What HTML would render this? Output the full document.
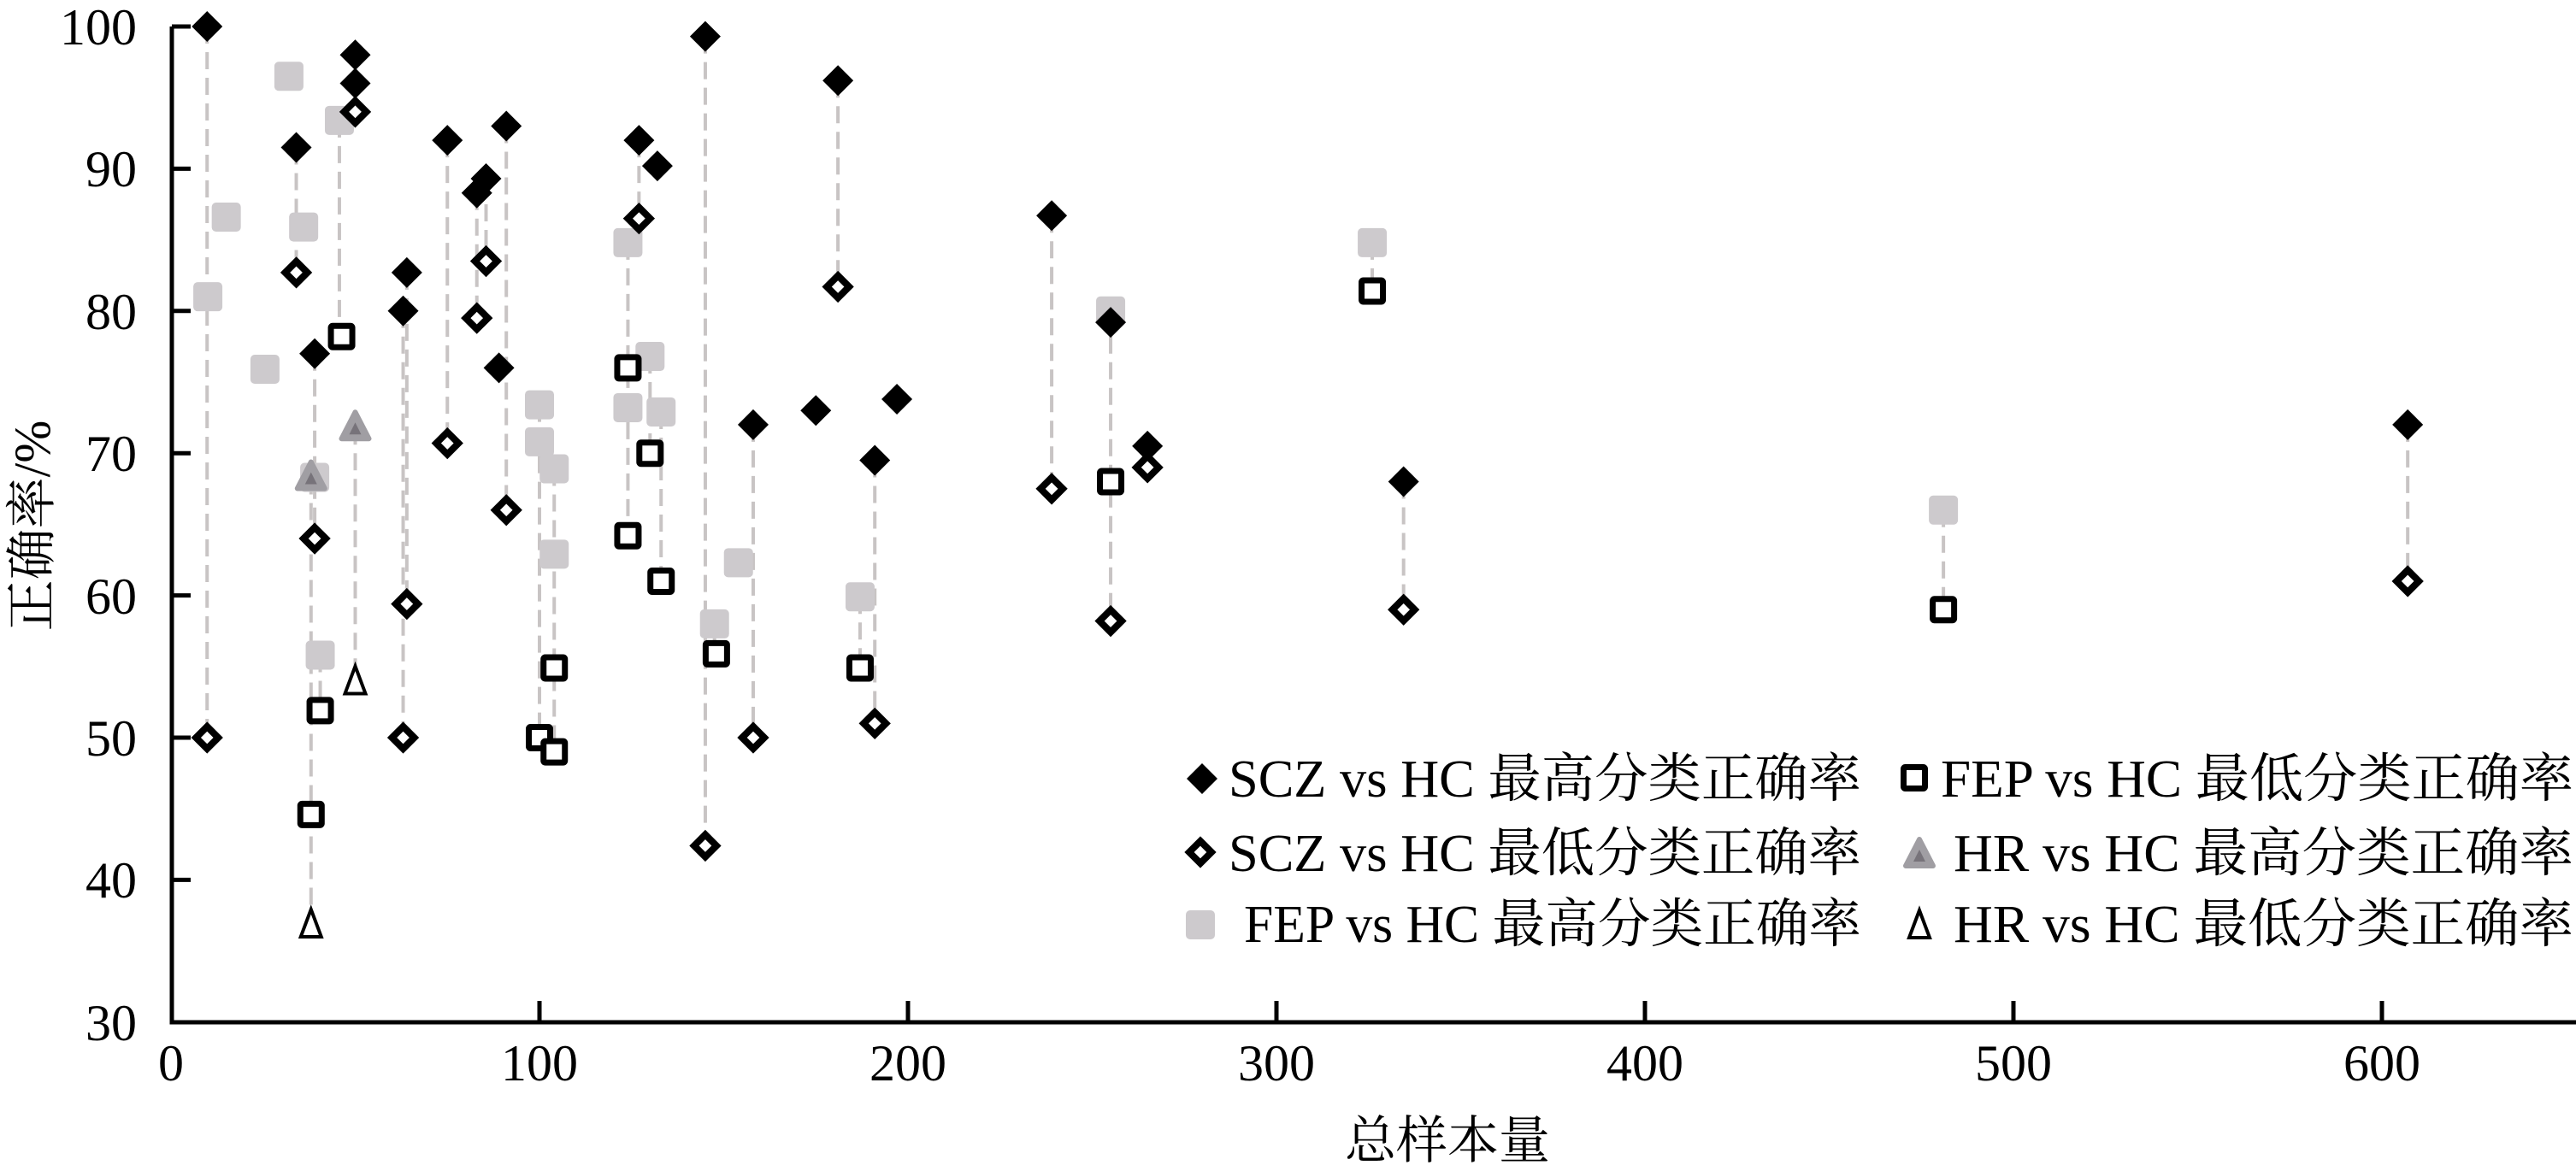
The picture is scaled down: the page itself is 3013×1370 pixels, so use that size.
<!DOCTYPE html>
<html><head><meta charset="utf-8"><style>
html,body{margin:0;padding:0;background:#fff;width:3013px;height:1370px;overflow:hidden}
svg text{font-family:"Liberation Serif","Noto Serif CJK SC",serif;fill:#000}
</style></head><body>
<svg id="s" width="3013" height="1370" xmlns="http://www.w3.org/2000/svg">
<g id="lines" stroke="#c8c4c4" stroke-width="4" stroke-dasharray="20,10" fill="none"></g>
<g id="pts"></g>
<g stroke="#000" stroke-width="5" fill="none">
<path d="M201 31 V1196 H3013"/>
<path d="M201 31 h22 M201 197.4 h22 M201 363.8 h22 M201 530.2 h22 M201 696.6 h22 M201 863 h22 M201 1029.4 h22"/>
<path d="M631 1196 v-25 M1062 1196 v-25 M1493 1196 v-25 M1924 1196 v-25 M2355 1196 v-25 M2786 1196 v-25"/>
</g>
<g font-size="60" text-anchor="end">
<text x="160" y="52">100</text><text x="160" y="218">90</text><text x="160" y="385">80</text>
<text x="160" y="551">70</text><text x="160" y="718">60</text><text x="160" y="884">50</text>
<text x="160" y="1050">40</text><text x="160" y="1217">30</text>
</g>
<g font-size="60" text-anchor="middle">
<text x="200" y="1264">0</text><text x="631" y="1264">100</text><text x="1062" y="1264">200</text>
<text x="1493" y="1264">300</text><text x="1924" y="1264">400</text><text x="2355" y="1264">500</text><text x="2786" y="1264">600</text>
</g>
<text font-size="60" text-anchor="middle" x="1693" y="1355">总样本量</text>
<text font-size="60" text-anchor="middle" transform="translate(58,615) rotate(-90)">正确率/%</text>
<g font-size="62" id="leg">
<text x="1437" y="932" textLength="740" lengthAdjust="spacingAndGlyphs">SCZ vs HC 最高分类正确率</text>
<text x="1437" y="1019" textLength="740" lengthAdjust="spacingAndGlyphs">SCZ vs HC 最低分类正确率</text>
<text x="1455" y="1102" textLength="722" lengthAdjust="spacingAndGlyphs">FEP vs HC 最高分类正确率</text>
<text x="2270" y="932" textLength="740" lengthAdjust="spacingAndGlyphs">FEP vs HC 最低分类正确率</text>
<text x="2285" y="1019" textLength="725" lengthAdjust="spacingAndGlyphs">HR vs HC 最高分类正确率</text>
<text x="2285" y="1102" textLength="725" lengthAdjust="spacingAndGlyphs">HR vs HC 最低分类正确率</text>
</g>
</svg>
<script>
var NS="http://www.w3.org/2000/svg";
function X(x){return 200+x*4.31}
function Y(y){return 31+(100-y)*16.64}
function el(p,t,a){var e=document.createElementNS(NS,t);for(var k in a)e.setAttribute(k,a[k]);p.appendChild(e);return e}
var L=document.getElementById('lines'),P=document.getElementById('pts');
var lines=[[9.8,100,50],[34,91.5,82.7],[38,68.3,36.9],[39,77,64],[50,98,94],[50,71.8,54],[63,80,50],[64,82.7,59.4],[75,92,70.7],[83,88.3,79.5],[85.5,89.3,83.5],[91,93,66],[45.7,93.4,78.2],[40.5,55.8,51.9],[100,73.4,50],[104,68.9,49],[124,84.8,64.2],[130,76.8,70],[133,72.9,61],[127,92,86.5],[145,99.3,42.4],[147.5,58,55.9],[158,72,50],[181,96.2,81.7],[187,59.9,54.9],[191,69.5,51],[239,86.7,67.5],[255,80,58.2],[265,70.5,69],[326,84.8,81.4],[334.5,68,59],[481,66,59],[607,72,61]];
lines.forEach(function(l){el(L,'line',{x1:X(l[0]),x2:X(l[0]),y1:Y(l[1]),y2:Y(l[2])})});
function gsq(x,y){el(P,'rect',{x:x-17,y:y-17,width:34,height:34,rx:5,fill:'#cdcacd'})}
function hsq(x,y){el(P,'rect',{x:x-12.5,y:y-12.5,width:25,height:25,rx:2,fill:'#fff',stroke:'#000','stroke-width':7})}
function fdi(x,y){el(P,'polygon',{points:(x)+','+(y-18)+' '+(x+18)+','+y+' '+x+','+(y+18)+' '+(x-18)+','+y,fill:'#000'})}
function hdi(x,y){el(P,'polygon',{points:(x)+','+(y-13)+' '+(x+13)+','+y+' '+x+','+(y+13)+' '+(x-13)+','+y,fill:'#fff',stroke:'#000','stroke-width':8,'stroke-linejoin':'miter'})}
function ftr(x,y){el(P,'polygon',{points:x+','+(y-18)+' '+(x+16)+','+(y+13)+' '+(x-16)+','+(y+13),fill:'#a09ea3',stroke:'#a09ea3','stroke-width':6,'stroke-linejoin':'round'});el(P,'polygon',{points:x+','+(y-6)+' '+(x+7)+','+(y+8)+' '+(x-7)+','+(y+8),fill:'#77737a'})}
function htr(x,y){el(P,'polygon',{points:x+','+(y-17)+' '+(x+12)+','+(y+15)+' '+(x-12)+','+(y+15),fill:'#fff',stroke:'#000','stroke-width':4})}
var fh=[[10,81],[15,86.6],[32,96.5],[25.5,75.9],[36,85.9],[39,68.3],[40.5,55.8],[45.7,93.4],[100,73.4],[100,70.8],[104,68.9],[104,62.9],[124,84.8],[124,73.2],[130,76.8],[133,72.9],[147.5,58],[154,62.3],[187,59.9],[255,80],[326,84.8],[481,66]];
var fl=[[38,44.6],[40.5,51.9],[46.3,78.2],[100,50],[104,49],[104,54.9],[124,76],[124,64.2],[130,70],[133,61],[148,55.9],[187,54.9],[255,68],[326,81.4],[481,59]];
var sh=[[9.8,100],[34,91.5],[39,77],[50,98],[50,96],[63,80],[64,82.7],[75,92],[83,88.3],[85.5,89.3],[89,76],[91,93],[127,92],[132,90.2],[145,99.3],[158,72],[181,96.2],[175,73],[197,73.8],[191,69.5],[239,86.7],[255,79.2],[265,70.5],[334.5,68],[607,72]];
var sl=[[9.8,50],[34,82.7],[39,64],[50,94],[63,50],[64,59.4],[75,70.7],[83,79.5],[85.5,83.5],[91,66],[127,86.5],[145,42.4],[158,50],[181,81.7],[191,51],[239,67.5],[255,58.2],[265,69],[334.5,59],[607,61]];
fh.forEach(function(p){gsq(X(p[0]),Y(p[1]))});
fl.forEach(function(p){hsq(X(p[0]),Y(p[1]))});
sh.forEach(function(p){fdi(X(p[0]),Y(p[1]))});
sl.forEach(function(p){hdi(X(p[0]),Y(p[1]))});
ftr(X(38),Y(68.3));ftr(X(50),Y(71.8));
htr(X(38),Y(36.9));htr(X(50),Y(54));
fdi(1406,911);hdi(1404,997);
gsq(1404,1082);
hsq(2239,910);
ftr(2245,1000);htr(2245,1082);
</script>
</body></html>
